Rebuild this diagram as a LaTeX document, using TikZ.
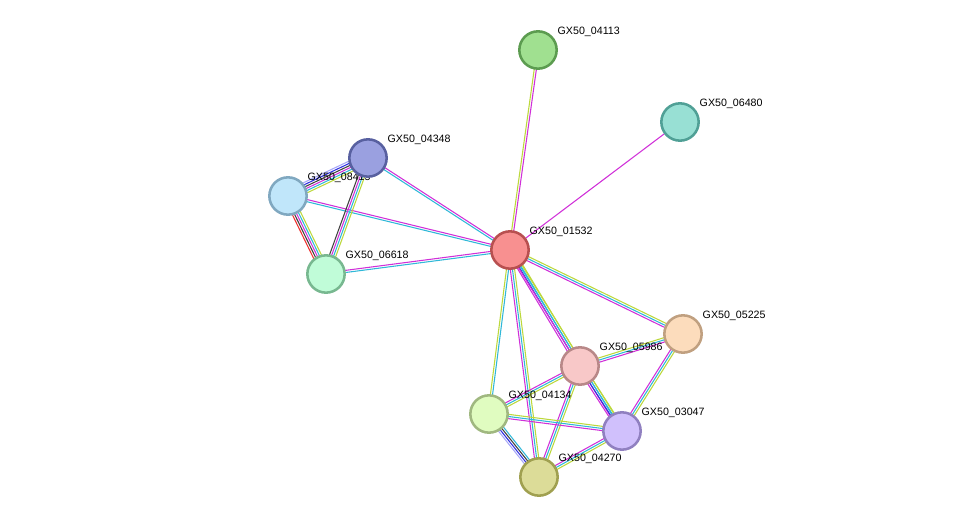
\documentclass[tikz,border=0pt]{standalone}
\usepackage{fontspec}
\setmainfont{Liberation Sans}
\usetikzlibrary{calc, backgrounds}

\definecolor{emag}{HTML}{D030D8}
\definecolor{ecya}{HTML}{30B8D8}
\definecolor{eyel}{HTML}{BCD83C}
\definecolor{eblk}{HTML}{404040}
\definecolor{eblu}{HTML}{3030E0}
\definecolor{elbl}{HTML}{A8A8F8}
\definecolor{ered}{HTML}{F03030}

% parallel coloured lines between two nodes
\newcommand\linkedge[4]{%
  \foreach \ecol [count=\i] in {#4} {
    \pgfmathsetmacro\off{(\i-(#3+1)/2)*1.6}
    \draw[\ecol, line width=0.8pt]
      ($(#1.center)!\off pt!90:(#2.center)$) -- ($(#2.center)!\off pt!-90:(#1.center)$);
  }%
}

\begin{document}
\begin{tikzpicture}[
    x=0.75pt, y=-0.75pt,
    gene/.style={circle, draw, line width=1.9pt, minimum size=28pt, inner sep=0pt},
    lbl/.style={font=\fontsize{8}{9}\selectfont, inner sep=1pt, xshift=3pt, yshift=-2pt}
]
    \useasboundingbox (0,0) rectangle (975,523);

    % Nodes
    \node[gene, fill={rgb,255:red,160;green,224;blue,144}, draw={rgb,255:red,92;green,156;blue,80}, label={[lbl]above right:GX50\_04113}] (g04113) at (538,50) {};
    \node[gene, fill={rgb,255:red,152;green,224;blue,212}, draw={rgb,255:red,80;green,160;blue,150}, label={[lbl]above right:GX50\_06480}] (g06480) at (680,122) {};
    \node[gene, fill={rgb,255:red,192;green,230;blue,250}, draw={rgb,255:red,128;green,168;blue,192}, label={[lbl]above right:GX50\_08415}] (g08415) at (288,196) {};
    \node[gene, fill={rgb,255:red,154;green,160;blue,224}, draw={rgb,255:red,88;green,96;blue,160}, label={[lbl]above right:GX50\_04348}] (g04348) at (368,158) {};
    \node[gene, fill={rgb,255:red,248;green,144;blue,144}, draw={rgb,255:red,184;green,80;blue,80}, label={[lbl]above right:GX50\_01532}] (g01532) at (510,250) {};
    \node[gene, fill={rgb,255:red,192;green,252;blue,216}, draw={rgb,255:red,120;green,184;blue,144}, label={[lbl]above right:GX50\_06618}] (g06618) at (326,274) {};
    \node[gene, fill={rgb,255:red,252;green,220;blue,188}, draw={rgb,255:red,192;green,160;blue,128}, label={[lbl]above right:GX50\_05225}] (g05225) at (683,334) {};
    \node[gene, fill={rgb,255:red,248;green,200;blue,200}, draw={rgb,255:red,184;green,136;blue,136}, label={[lbl]above right:GX50\_05986}] (g05986) at (580,366) {};
    \node[gene, fill={rgb,255:red,224;green,252;blue,192}, draw={rgb,255:red,160;green,184;blue,128}, label={[lbl]above right:GX50\_04134}] (g04134) at (489,414) {};
    \node[gene, fill={rgb,255:red,208;green,192;blue,252}, draw={rgb,255:red,144;green,128;blue,192}, label={[lbl]above right:GX50\_03047}] (g03047) at (622,431) {};
    \node[gene, fill={rgb,255:red,220;green,220;blue,152}, draw={rgb,255:red,160;green,160;blue,80}, label={[lbl]above right:GX50\_04270}] (g04270) at (539,477) {};

    % Edges
    \begin{scope}[on background layer]
        \linkedge{g01532}{g04113}{2}{emag,eyel}
        \linkedge{g01532}{g06480}{1}{emag}
        \linkedge{g01532}{g04348}{2}{emag,ecya}
        \linkedge{g01532}{g08415}{2}{emag,ecya}
        \linkedge{g01532}{g06618}{2}{emag,ecya}
        \linkedge{g04348}{g08415}{6}{elbl,eblu,eblk,emag,ecya,eyel}
        \linkedge{g04348}{g06618}{4}{eblk,emag,ecya,eyel}
        \linkedge{g08415}{g06618}{5}{ered,eblk,emag,ecya,eyel}
        \linkedge{g01532}{g05225}{3}{emag,ecya,eyel}
        \linkedge{g01532}{g05986}{4}{emag,eblu,ecya,eyel}
        \linkedge{g01532}{g03047}{3}{emag,ecya,eyel}
        \linkedge{g01532}{g04134}{2}{eyel,ecya}
        \linkedge{g01532}{g04270}{3}{emag,ecya,eyel}
        \linkedge{g05986}{g05225}{3}{emag,ecya,eyel}
        \linkedge{g05225}{g03047}{3}{emag,ecya,eyel}
        \linkedge{g05986}{g04134}{3}{emag,ecya,eyel}
        \linkedge{g05986}{g03047}{4}{emag,eblu,ecya,eyel}
        \linkedge{g05986}{g04270}{3}{emag,ecya,eyel}
        \linkedge{g04134}{g03047}{3}{emag,ecya,eyel}
        \linkedge{g04134}{g04270}{4}{elbl,eblu,eblk,ecya}
        \linkedge{g03047}{g04270}{3}{emag,ecya,eyel}
    \end{scope}

\end{tikzpicture}
\end{document}
